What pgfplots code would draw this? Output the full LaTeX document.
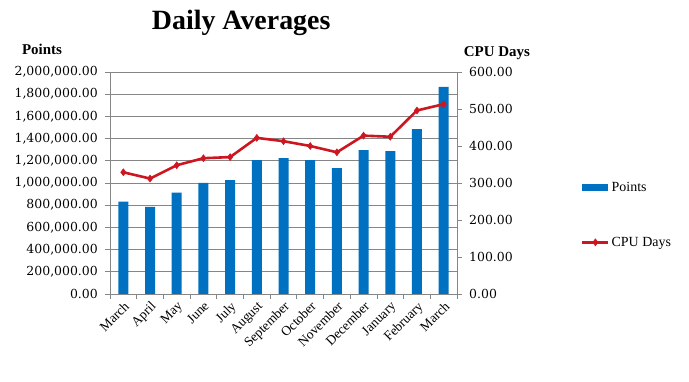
\documentclass[border=0pt]{standalone}
\usepackage{fontspec}
\setmainfont{Liberation Serif}
\newfontfamily\numfont{DejaVu Serif}
\usepackage{pgfplots}
\pgfplotsset{compat=1.18}
\definecolor{barblue}{RGB}{0,112,192}
\definecolor{linered}{RGB}{206,22,32}
\definecolor{gridgray}{RGB}{134,134,134}
\pgfplotsset{
  mylineimg/.style={legend image code/.code={\draw[mark repeat=2,mark phase=2,##1] plot coordinates {(0bp,0bp) (13bp,0bp) (26bp,0bp)};}},
  mybarimg/.style={legend image code/.code={\fill[barblue] (0bp,-3.5bp) rectangle (26bp,3.5bp);}},
}
\begin{document}
\begin{tikzpicture}
\useasboundingbox (0,0) rectangle (689bp,382bp);
\begin{axis}[
  at={(110bp,88bp)}, anchor=south west,
  scale only axis, width=347bp, height=222bp,
  xmin=-0.5, xmax=12.5, ymin=0, ymax=2000000,
  xtick={0,...,12},
  xticklabels={March,April,May,June,July,August,September,October,November,December,January,February,March},
  x tick label style={rotate=45, anchor=north east, font=\fontsize{13.5}{13.5}\selectfont, inner sep=1bp},
  minor xtick={-0.5,0.5,...,12.5},
  major x tick style={draw=none},
  ytick distance=200000,
  ymajorgrids, grid style={gridgray, line width=0.8bp},
  axis line style={gridgray, line width=0.8bp},
  tick style={gridgray, line width=0.8bp},
  tick align=outside, major tick length=5bp, minor tick length=5bp,
  axis y line*=left, axis x line*=bottom,
  scaled y ticks=false,
  /pgf/number format/assume math mode=true,
  yticklabel style={/pgf/number format/fixed, /pgf/number format/fixed zerofill, /pgf/number format/precision=2, /pgf/number format/1000 sep={,}, font=\numfont\fontsize{12.5}{12.5}\selectfont, inner sep=2bp, xshift=-5bp},
  clip=false,
]
\addplot[ybar, bar width=10bp, fill=barblue, draw=none] coordinates {
(0,832000) (1,784000) (2,913000) (3,1000000) (4,1027000) (5,1207000) (6,1225000)
(7,1207000) (8,1135000) (9,1297000) (10,1288000) (11,1486000) (12,1865000)};
\node[font=\bfseries\fontsize{28}{28}\selectfont] at (axis description cs:0.378,1.22) {Daily Averages};
\node[font=\bfseries\fontsize{15}{15}\selectfont] at (axis description cs:-0.196,1.104) {Points};
\node[font=\bfseries\fontsize{15}{15}\selectfont] at (axis description cs:1.115,1.086) {CPU Days};
\end{axis}
\begin{axis}[
  at={(110bp,88bp)}, anchor=south west,
  scale only axis, width=347bp, height=222bp,
  xmin=-0.5, xmax=12.5, ymin=0, ymax=600,
  axis x line=none, axis y line*=right,
  ytick distance=100,
  axis line style={gridgray, line width=0.8bp},
  tick style={gridgray, line width=0.8bp},
  tick align=outside, major tick length=5bp,
  /pgf/number format/assume math mode=true,
  yticklabel style={/pgf/number format/fixed, /pgf/number format/fixed zerofill, /pgf/number format/precision=2, font=\numfont\fontsize{12.5}{12.5}\selectfont, inner sep=2bp, xshift=5bp},
  legend style={at={(axis description cs:1.357,0.356)}, anchor=west, draw=none, fill=none, inner sep=0pt, row sep=40bp, font=\fontsize{14}{14}\selectfont, legend cell align=left},
  clip=false,
]
\addlegendimage{fill=barblue, draw=none, mybarimg}
\addlegendentry{Points}
\addplot[linered, line width=2.6bp, mark=diamond*, mark size=3.5bp, mark options={fill=linered, line width=0.5bp}, mylineimg] coordinates {
(0,329) (1,312) (2,348) (3,367) (4,370) (5,422) (6,413) (7,400) (8,383) (9,428) (10,425) (11,496) (12,513)};
\addlegendentry{CPU Days}
\end{axis}
\end{tikzpicture}
\end{document}
